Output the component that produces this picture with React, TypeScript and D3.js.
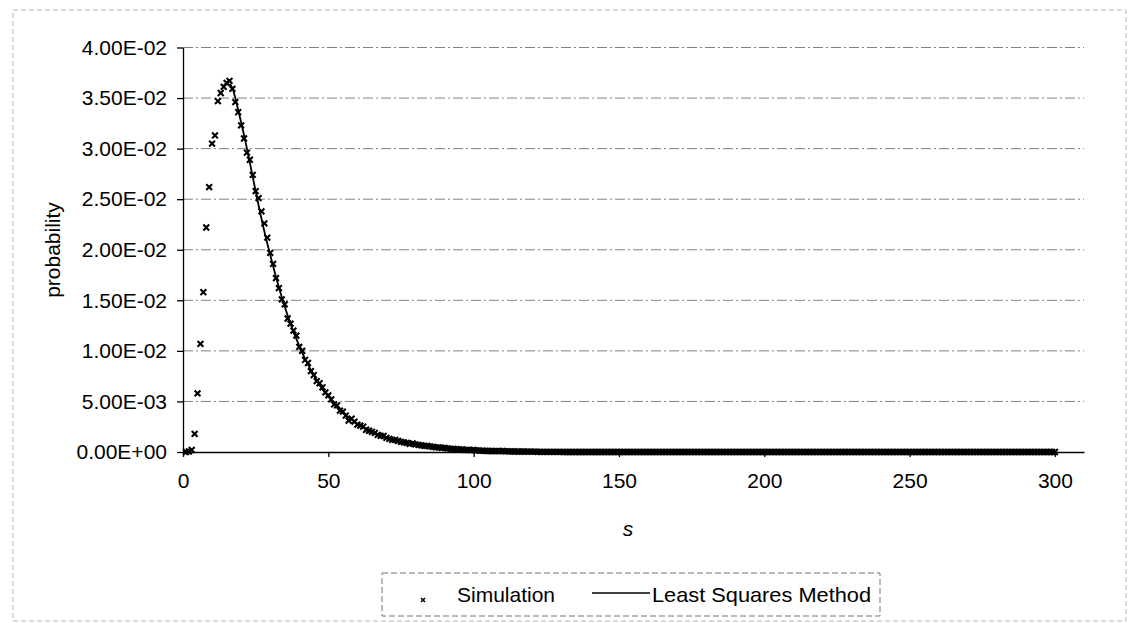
import { useEffect, useRef } from "react";
import * as d3 from "d3";

// chart values
const xTicks = [0, 50, 100, 150, 200, 250, 300];
const yTicks = [0, 0.005, 0.01, 0.015, 0.02, 0.025, 0.03, 0.035, 0.04];
const yTickLabels = [
  "0.00E+00", "5.00E-03", "1.00E-02", "1.50E-02", "2.00E-02",
  "2.50E-02", "3.00E-02", "3.50E-02", "4.00E-02",
];

// Simulation: probability for s = 1, 2, 3, ... 300
const simP = [
  0, 0.00005, 0.0002, 0.0018, 0.0058, 0.0107, 0.0158, 0.0222, 0.0262, 0.0305,
  0.0313, 0.0347, 0.0355, 0.0361, 0.0365, 0.0367, 0.0359, 0.0346, 0.0336, 0.0323,
  0.031, 0.0296, 0.0289, 0.0274, 0.0258, 0.0251, 0.0238, 0.0226, 0.0212, 0.0197,
  0.0186, 0.0172, 0.0162, 0.0151, 0.0146, 0.0132, 0.0127, 0.012, 0.0115, 0.0104,
  0.01, 0.0091, 0.0088, 0.008, 0.0076, 0.007, 0.0068, 0.0064, 0.0059, 0.0056,
  0.0052, 0.0047, 0.0046, 0.0041, 0.004, 0.0036, 0.0031, 0.0033, 0.003, 0.0027,
  0.0026, 0.0025, 0.0022, 0.0021, 0.002, 0.0019, 0.0017, 0.0016, 0.0016, 0.0014,
  0.0013, 0.0012, 0.0012, 0.0011, 0.001, 0.00095, 0.0009, 0.0008, 0.00085, 0.00075,
  0.0007, 0.00065, 0.0006, 0.0006, 0.00055, 0.0005, 0.00045, 0.00045, 0.0004, 0.0004,
  0.00035, 0.0003, 0.0003, 0.00028, 0.00025, 0.00025, 0.0002, 0.0002, 0.00018, 0.00022,
  0.00015, 0.00014, 0.00013, 0.00012, 0.0001, 0.0001, 0.00009, 0.00009, 0.00008, 0.0001,
  0.00007, 0.00006, 0.00006, 0.00005, 0.00005, 0.00004, 0.00005, 0.00004, 0.00003, 0.00003,
  0.00003, 0.00002, 0.00002, 0.00002, 0.00001, 0.00002, 0.00001, 0.00001, 0.00001, 0.00001,
  0, 0, 0, 0, 0, 0, 0, 0, 0, 0,
  0, 0, 0, 0, 0, 0, 0, 0, 0, 0,
  0, 0, 0, 0, 0, 0, 0, 0, 0, 0,
  0, 0, 0, 0, 0, 0, 0, 0, 0, 0,
  0, 0, 0, 0, 0, 0, 0, 0, 0, 0,
  0, 0, 0, 0, 0, 0, 0, 0, 0, 0,
  0, 0, 0, 0, 0, 0, 0, 0, 0, 0,
  0, 0, 0, 0, 0, 0, 0, 0, 0, 0,
  0, 0, 0, 0, 0, 0, 0, 0, 0, 0,
  0, 0, 0, 0, 0, 0, 0, 0, 0, 0,
  0, 0, 0, 0, 0, 0, 0, 0, 0, 0,
  0, 0, 0, 0, 0, 0, 0, 0, 0, 0,
  0, 0, 0, 0, 0, 0, 0, 0, 0, 0,
  0, 0, 0, 0, 0, 0, 0, 0, 0, 0,
  0, 0, 0, 0, 0, 0, 0, 0, 0, 0,
  0, 0, 0, 0, 0, 0, 0, 0, 0, 0,
  0, 0, 0, 0, 0, 0, 0, 0, 0, 0,
];

// Least Squares Method fit
const fitS = [
  16, 17, 18, 19, 20, 22, 24, 26, 28, 30, 32, 34, 36, 38, 40, 42, 44, 46, 48, 50,
  52, 55, 58, 60, 63, 66, 70, 75, 80, 85, 90, 95, 100, 110, 120, 130, 150, 175, 200, 250, 300,
];
const fitP = [
  0.0364, 0.036, 0.035, 0.0338, 0.0326, 0.03, 0.0272, 0.0244, 0.0218, 0.0195,
  0.0173, 0.0153, 0.0135, 0.0119, 0.0105, 0.0092, 0.0081, 0.0071, 0.0062, 0.0055,
  0.0048, 0.0039, 0.0032, 0.0028, 0.0023, 0.00187, 0.00142, 0.00105, 0.00078, 0.00057,
  0.00041, 0.00029, 0.0002, 0.0001, 0.00005, 0.000025, 0.000006, 0.000001, 0.0000002, 0, 0,
];

const FONT = "'Liberation Sans', Arial, sans-serif";

const App = () => {
  const ref = useRef<SVGSVGElement>(null);

  useEffect(() => {
    const svg = d3.select(ref.current);
    svg.selectAll("*").remove();

    const x = d3.scaleLinear().domain([0, 310]).range([183, 1084]);
    const y = d3.scaleLinear().domain([0, 0.04]).range([452, 47.5]);

    // outer chart border (faint, dashed like the scan)
    svg.append("rect")
      .attr("x", 13).attr("y", 10).attr("width", 1113).attr("height", 611)
      .attr("fill", "none").attr("stroke", "#b5b5b5").attr("stroke-dasharray", "5 3");

    // gridlines
    svg.append("g")
      .selectAll("line")
      .data(yTicks.slice(1))
      .enter()
      .append("line")
      .attr("x1", x(0)).attr("x2", x(310))
      .attr("y1", (d) => y(d)).attr("y2", (d) => y(d))
      .attr("stroke", "#808080")
      .attr("stroke-width", 1)
      .attr("stroke-dasharray", "10 3 2 3");

    // axes
    const yAxis = svg.append("g")
      .attr("transform", `translate(${x(0)},0)`)
      .call(
        d3.axisLeft(y)
          .tickValues(yTicks)
          .tickFormat((d, i) => yTickLabels[i])
          .tickSize(6)
          .tickSizeOuter(0)
          .tickPadding(10)
      );
    yAxis.selectAll("text").style("font-family", FONT).style("font-size", "21px").attr("fill", "#000");
    yAxis.selectAll("line, path").attr("stroke", "#000").attr("stroke-width", 1.3);

    const xAxis = svg.append("g")
      .attr("transform", `translate(0,${y(0)})`)
      .call(
        d3.axisBottom(x)
          .tickValues(xTicks)
          .tickFormat(d3.format("d"))
          .tickSize(5)
          .tickSizeOuter(0)
          .tickPadding(16)
      );
    xAxis.selectAll("text").style("font-family", FONT).style("font-size", "21px").attr("fill", "#000");
    xAxis.selectAll("line, path").attr("stroke", "#000").attr("stroke-width", 1.3);

    // axis titles
    svg.append("text")
      .attr("transform", "translate(53,250) rotate(-90)")
      .attr("text-anchor", "middle")
      .attr("dy", "0.35em")
      .style("font-family", FONT)
      .style("font-size", "21px")
      .text("probability");

    svg.append("text")
      .attr("x", 628).attr("y", 536)
      .attr("text-anchor", "middle")
      .style("font-family", FONT)
      .style("font-size", "21px")
      .style("font-style", "italic")
      .text("s");

    // fitted line
    const line = d3.line<number>()
      .x((d, i) => x(fitS[i]))
      .y((d) => y(d))
      .curve(d3.curveMonotoneX);
    svg.append("path")
      .datum(fitP)
      .attr("d", line)
      .attr("fill", "none")
      .attr("stroke", "#000")
      .attr("stroke-width", 1.8);

    // simulation markers
    const cross = (r) => `M${-r},${-r}L${r},${r}M${-r},${r}L${r},${-r}`;
    svg.append("g")
      .selectAll("path")
      .data(simP)
      .enter()
      .append("path")
      .attr("transform", (d, i) => `translate(${x(i + 1)},${y(d)})`)
      .attr("d", cross(2.9))
      .attr("stroke", "#000")
      .attr("stroke-width", 2.1)
      .attr("fill", "none");

    // legend
    const legend = svg.append("g");
    legend.append("rect")
      .attr("x", 382).attr("y", 573).attr("width", 498).attr("height", 43)
      .attr("fill", "none").attr("stroke", "#777").attr("stroke-dasharray", "6 3");
    legend.append("path")
      .attr("transform", "translate(423,600)")
      .attr("d", cross(2))
      .attr("stroke", "#000").attr("stroke-width", 1.6);
    legend.append("text")
      .attr("x", 457).attr("y", 602)
      .style("font-family", FONT).style("font-size", "21px")
      .text("Simulation");
    legend.append("line")
      .attr("x1", 592).attr("x2", 650).attr("y1", 593).attr("y2", 593)
      .attr("stroke", "#000").attr("stroke-width", 1.5);
    legend.append("text")
      .attr("x", 652).attr("y", 602)
      .attr("textLength", 219)
      .attr("lengthAdjust", "spacingAndGlyphs")
      .style("font-family", FONT).style("font-size", "21px")
      .text("Least Squares Method");
  }, []);

  return (
    <svg
      ref={ref}
      width={1128}
      height={623}
      style={{ position: "absolute", left: 0, top: 0, background: "#fff" }}
    />
  );
};

export default App;
